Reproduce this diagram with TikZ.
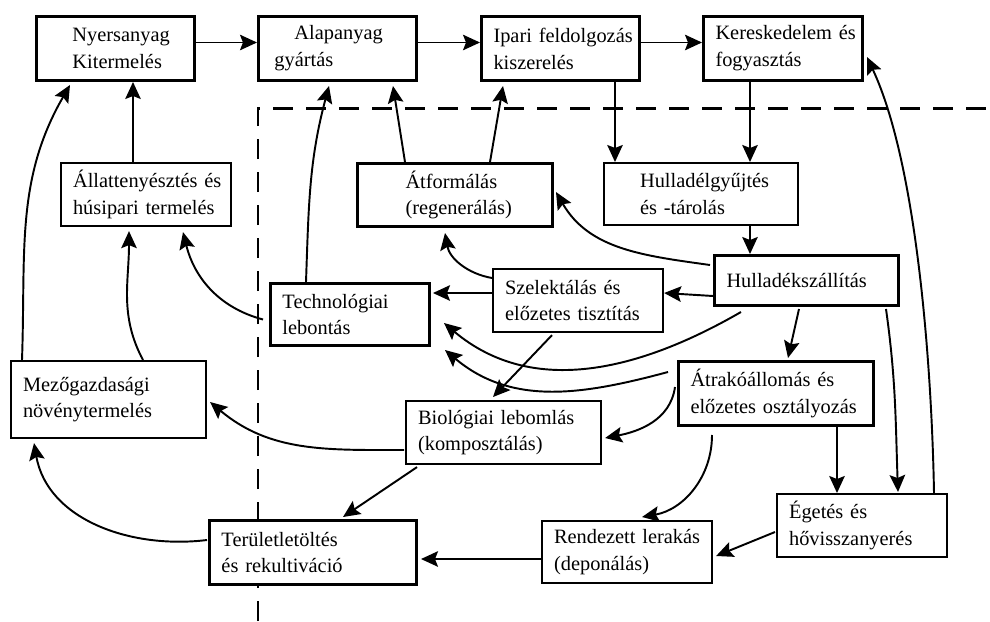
\documentclass[tikz,border=0pt]{standalone}
\usepackage{fontspec}
\setmainfont{Liberation Serif}
\usetikzlibrary{arrows.meta, calc}
\hyphenpenalty=10000 \exhyphenpenalty=10000

\begin{document}
\begin{tikzpicture}[x=0.2mm,y=0.2mm,box/.style={draw=black,fill=white,line width=1.2pt,align=left,anchor=north west,inner xsep=2.4mm,inner ysep=0pt,font=\fontsize{11.6}{15.3}\selectfont},heavy/.style={box,line width=1.7pt},arrow/.style={line width=1.1pt,-{Stealth[length=3.4mm,width=3.1mm,inset=0.6mm]}},border/.style={line width=1.7pt,dash pattern=on 4mm off 2.6mm}]
\useasboundingbox (0,0) rectangle (990,-621);
\draw[border] (258,-621) -- (258,-108) -- (990,-108);
\node[heavy, inner xsep=7.2mm, text width=17.2mm, minimum height=12.8mm] (nyers) at (35,-15) {Nyersanyag\\Kitermelés};
\node[heavy, inner xsep=3.2mm, text width=25.2mm, minimum height=12.8mm] (alap) at (257,-15) {\hspace*{4mm}Alapanyag\\gyártás};
\node[heavy, text width=26.8mm, minimum height=12.8mm] (ipari) at (480,-15) {Ipari~feldolgozás\\kiszerelés};
\node[heavy, text width=27mm, minimum height=12.8mm] (keresk) at (702,-15) {Kereskedelem~és\\fogyasztás};
\node[box, text width=29.2mm, minimum height=12.6mm] (allat) at (60,-162) {Állattenyésztés~és\\húsipari~termelés};
\node[heavy, inner xsep=9.6mm, text width=19.8mm, minimum height=12.6mm] (atform) at (356,-162) {Átformálás\\(regenerálás)};
\node[box, inner xsep=7.2mm, text width=24.4mm, minimum height=12.4mm] (gyujt) at (603,-162) {Hulladélgyűjtés\\és~-tárolás};
\node[heavy, text width=32mm, minimum height=10mm] (szall) at (713,-254) {Hulladékszállítás};
\node[box, text width=29.2mm, minimum height=12.6mm] (szelekt) at (492,-268) {Szelektálás~és\\előzetes~tisztítás};
\node[heavy, text width=27mm, minimum height=12.4mm] (tech) at (269,-282) {Technológiai\\lebontás};
\node[heavy, text width=34.2mm, minimum height=12.8mm] (atrako) at (677,-360) {Átrakóállomás~és\\előzetes~osztályozás};
\node[box, text width=34.2mm, minimum height=12.6mm] (bio) at (405,-400) {Biológiai~lebomlás\\(komposztálás)};
\node[box, text width=34.2mm, minimum height=15.4mm] (mezo) at (10,-360) {Mezőgazdasági\\növénytermelés};
\node[heavy, text width=36.6mm, minimum height=12.8mm] (terulet) at (208,-519) {Területletöltés\\és~rekultiváció};
\node[box, text width=29.2mm, minimum height=12.4mm] (rend) at (541,-520) {Rendezett~lerakás\\(deponálás)};
\node[box, text width=29.2mm, minimum height=12.6mm] (eget) at (776,-493) {Égetés~és\\hővisszanyerés};
\draw[arrow] ($(nyers.east)+(0,6)$) -- ($(alap.west)+(0,6)$);
\draw[arrow] ($(alap.east)+(0,6)$) -- ($(ipari.west)+(0,6)$);
\draw[arrow] ($(ipari.east)+(0,6)$) -- ($(keresk.west)+(0,6)$);
\draw[arrow] ($(ipari.south west)+(135,0)$) -- ($(gyujt.north west)+(12,0)$);
\draw[arrow] ($(keresk.south west)+(48,0)$) -- ($(gyujt.north west)+(147,0)$);
\draw[arrow] ($(gyujt.south west)+(147,0)$) -- ($(szall.north west)+(37,0)$);
\draw[arrow] ($(allat.north west)+(73,0)$) -- ($(nyers.south west)+(98,0)$);
\draw[arrow] ($(mezo.north west)+(12,0)$) to[out=88,in=240] ($(nyers.south west)+(35,-3)$);
\draw[arrow] ($(mezo.north west)+(133,0)$) to[out=118,in=270] ($(allat.south west)+(69,-4)$);
\draw[arrow] ($(tech.west)+(-6,-5)$) to[out=165,in=284] ($(allat.south west)+(123,-5)$);
\draw[arrow] ($(tech.north west)+(37,0)$) to[out=88,in=255] ($(alap.south west)+(72,-4)$);
\draw[arrow] ($(atform.north west)+(49,0)$) -- ($(alap.south west)+(136,-4)$);
\draw[arrow] ($(atform.north west)+(134,0)$) -- ($(ipari.south west)+(23,-4)$);
\draw[arrow] ($(szall.north west)+(-3,-11)$) to[out=172,in=300] ($(atform.north east)+(2,-30)$);
\draw[arrow] ($(szall.south west)+(0,11)$) -- ($(szelekt.north east)+(0,-25)$);
\draw[arrow] ($(szelekt.north west)+(0,-25)$) -- ($(tech.north east)+(2,-11)$);
\draw[arrow] ($(szelekt.north west)+(0,-10)$) to[out=170,in=280] ($(atform.south west)+(89,-5)$);
\draw[arrow] ($(szall.south west)+(28,-5)$) to[out=210,in=-40] ($(tech.south east)+(13,24)$);
\draw[arrow] ($(atrako.north west)+(-9,-12)$) to[out=195,in=-40] ($(tech.south east)+(14,-3)$);
\draw[arrow] ($(szelekt.south west)+(60,-2)$) -- ($(bio.north west)+(88,3)$);
\draw[arrow] ($(szall.south west)+(86,-2)$) -- ($(atrako.north west)+(111,2)$);
\draw[arrow] ($(szall.south west)+(173,-2)$) to[out=-82,in=92] ($(eget.north west)+(122,1)$);
\draw[arrow] ($(eget.north west)+(158,0)$) to[out=91,in=-65,looseness=0.7] ($(keresk.north east)+(3,-42)$);
\draw[arrow] ($(atrako.south west)+(160,0)$) -- ($(eget.north west)+(61,0)$);
\draw[arrow] ($(atrako.north west)+(-2,-27)$) to[out=262,in=11] ($(bio.north east)+(3,-38)$);
\draw[arrow] ($(atrako.south west)+(35,-8)$) to[out=-90,in=10] ($(rend.north west)+(101,3)$);
\draw[arrow] ($(eget.north west)+(-1,-39)$) -- ($(rend.north east)+(3,-36)$);
\draw[arrow] ($(rend.north west)+(0,-39)$) -- ($(terulet.north east)+(3,-40)$);
\draw[arrow] ($(bio.north west)+(-1,-50)$) to[out=180,in=-40] ($(mezo.north east)+(3,-42)$);
\draw[arrow] ($(bio.south west)+(12,-2)$) -- ($(terulet.north west)+(135,2)$);
\draw[arrow] ($(terulet.north west)+(-1,-21)$) to[out=187,in=-80] ($(mezo.south west)+(24,-4)$);
\end{tikzpicture}
\end{document}
